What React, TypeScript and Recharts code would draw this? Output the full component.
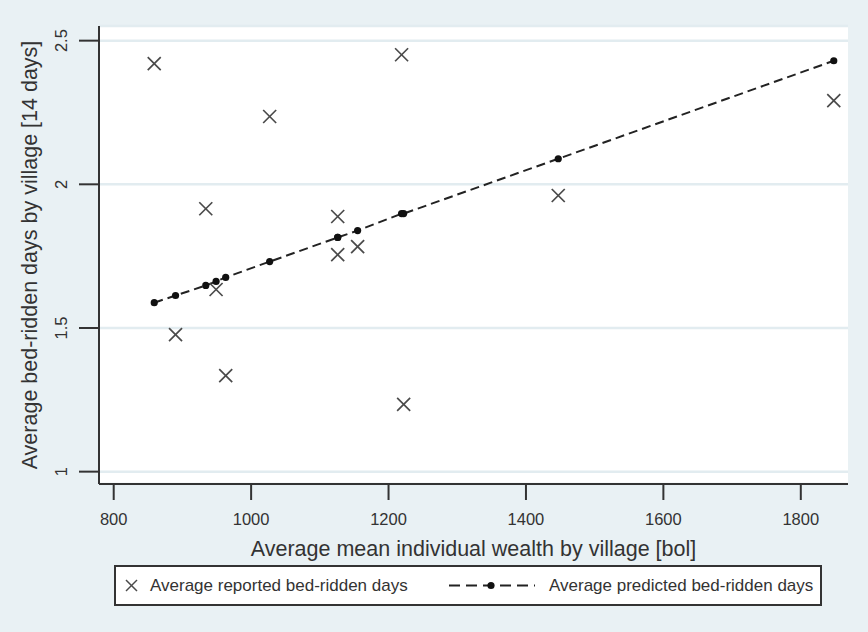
import { CartesianGrid, Label, Scatter, ScatterChart, XAxis, YAxis } from "recharts";

const wealth = [859, 890, 934, 949, 963, 1027, 1126, 1126, 1155, 1219, 1222, 1447, 1848];
const reported = [2.42, 1.477, 1.915, 1.634, 1.334, 2.236, 1.888, 1.755, 1.783, 2.451, 1.234, 1.961, 2.291];
const predicted = [1.588, 1.613, 1.648, 1.662, 1.676, 1.731, 1.815, 1.815, 1.839, 1.898, 1.898, 2.089, 2.43];
const xTicks = [800, 1000, 1200, 1400, 1600, 1800];
const yTicks = [1, 1.5, 2, 2.5];

const FONT = "'Liberation Sans', Arial, sans-serif";
const INK = "#333";
const BG = "#e9f1f4";

const reportedData = wealth.map((x, i) => ({ x, y: reported[i] }));
const predictedData = wealth.map((x, i) => ({ x, y: predicted[i] }));

function Cross({ cx, cy }: { cx?: number; cy?: number }) {
  if (cx == null || cy == null) return null;
  const h = 6.5;
  return (
    <g stroke="#4a4a4a" strokeWidth={1.7}>
      <line x1={cx - h} y1={cy - h} x2={cx + h} y2={cy + h} />
      <line x1={cx - h} y1={cy + h} x2={cx + h} y2={cy - h} />
    </g>
  );
}

function Dot({ cx, cy }: { cx?: number; cy?: number }) {
  if (cx == null || cy == null) return null;
  return <circle cx={cx} cy={cy} r={3.6} fill="#111" />;
}

function YTick({ x, y, payload }: any) {
  return (
    <text
      x={x}
      y={y}
      transform={`rotate(-90, ${x}, ${y})`}
      textAnchor="middle"
      fontSize={16.5}
      fontFamily={FONT}
      fill={INK}
    >
      {payload.value}
    </text>
  );
}

function YTitle({ viewBox }: any) {
  const cx = 30;
  const cy = viewBox.y + viewBox.height / 2;
  return (
    <text
      x={cx}
      y={cy}
      transform={`rotate(-90, ${cx}, ${cy})`}
      textAnchor="middle"
      dominantBaseline="central"
      fontSize={21.5}
      fontFamily={FONT}
      fill={INK}
    >
      Average bed-ridden days by village [14 days]
    </text>
  );
}

export default function App() {
  return (
    <div style={{ position: "fixed", left: 0, top: 0, width: 868, height: 632, background: BG }}>
      <ScatterChart width={868} height={632} margin={{ top: 26, right: 20, bottom: 76, left: 0 }}>
        <CartesianGrid vertical={false} fill="#fff" stroke="#e2ecf0" strokeWidth={2.5} />
        <XAxis
          type="number"
          dataKey="x"
          domain={[778.6, 1868.7]}
          ticks={xTicks}
          allowDataOverflow
          height={72}
          tickSize={16}
          tickMargin={13}
          axisLine={{ stroke: INK, strokeWidth: 2 }}
          tickLine={{ stroke: INK, strokeWidth: 2 }}
          tick={{ fontSize: 16.5, fontFamily: FONT, fill: INK }}
        >
          <Label
            value="Average mean individual wealth by village [bol]"
            position="insideBottom"
            offset={0}
            style={{ fontSize: 21.5, fontFamily: FONT, fill: INK }}
          />
        </XAxis>
        <YAxis
          type="number"
          dataKey="y"
          domain={[0.957, 2.551]}
          ticks={yTicks}
          allowDataOverflow
          width={99}
          tickSize={20}
          tickMargin={12}
          axisLine={{ stroke: INK, strokeWidth: 2 }}
          tickLine={{ stroke: INK, strokeWidth: 2 }}
          tick={<YTick />}
        >
          <Label content={<YTitle />} />
        </YAxis>
        <Scatter
          name="Average predicted bed-ridden days"
          data={predictedData}
          line={{ stroke: "#222", strokeWidth: 2, strokeDasharray: "9 5" }}
          shape={<Dot />}
          isAnimationActive={false}
        />
        <Scatter
          name="Average reported bed-ridden days"
          data={reportedData}
          shape={<Cross />}
          isAnimationActive={false}
        />
      </ScatterChart>
      <div
        style={{
          position: "absolute",
          left: 114,
          top: 565,
          width: 708,
          height: 41,
          boxSizing: "border-box",
          border: `2px solid ${INK}`,
          background: "#fff",
        }}
      >
        <svg width={704} height={37} style={{ position: "absolute", left: 0, top: 0 }}>
          <g stroke="#4a4a4a" strokeWidth={1.5}>
            <line x1={10} y1={13} x2={21} y2={24} />
            <line x1={10} y1={24} x2={21} y2={13} />
          </g>
          <text x={34} y={24} fontSize={17} fontFamily={FONT} fill={INK}>
            Average reported bed-ridden days
          </text>
          <line x1={333} y1={18.5} x2={419} y2={18.5} stroke="#222" strokeWidth={2} strokeDasharray="11 6" />
          <circle cx={375} cy={18.5} r={3.6} fill="#111" />
          <text x={433} y={24} fontSize={17} fontFamily={FONT} fill={INK}>
            Average predicted bed-ridden days
          </text>
        </svg>
      </div>
    </div>
  );
}
